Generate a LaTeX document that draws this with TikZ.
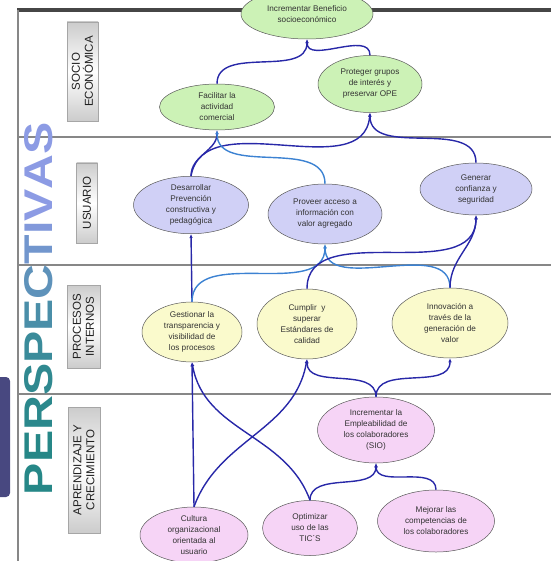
\documentclass[tikz,border=0pt]{standalone}
\usepackage{fontspec}
\setmainfont{Liberation Sans}
\usepackage{tikz}
\usepackage{xcolor}
\usetikzlibrary{positioning, arrows.meta, shapes.geometric}
\definecolor{socgreen}{RGB}{204, 242, 182}
\definecolor{usrlila}{RGB}{208, 208, 246}
\definecolor{proyellow}{RGB}{250, 250, 204}
\definecolor{aprpink}{RGB}{246, 212, 246}
\definecolor{framegray}{RGB}{135, 135, 135}
\definecolor{darkblue}{RGB}{40, 40, 168}
\definecolor{lightblue}{RGB}{60, 130, 210}
\definecolor{pteal}{RGB}{38, 135, 135}
\definecolor{pblue}{RGB}{140, 155, 228}
\definecolor{sidebox}{RGB}{72, 72, 128}
\newcommand{\persletter}[2]{\textcolor{pblue!#1!pteal}{#2}}
\tikzset{
    goalnode/.style={ellipse, draw=gray!70!black, line width=0.5pt, inner sep=0pt, align=center,
        text=black!80, font=\fontsize{8.2}{11}\selectfont},
    greennode/.style={goalnode, fill=socgreen},
    lilanode/.style={goalnode, fill=usrlila},
    yellownode/.style={goalnode, fill=proyellow},
    pinknode/.style={goalnode, fill=aprpink},
    bandline/.style={draw=framegray, line width=2.2pt},
    tagbox/.style={draw=gray!70, top color=gray!40, bottom color=gray!40, middle color=white,
        rotate=90, align=center, inner sep=0pt, text=gray!25!black,
        font=\fontsize{11.5}{13}\selectfont},
    darklink/.style={draw=darkblue, line width=1.4pt, -{Latex[length=4pt, width=3.5pt]}},
    lightlink/.style={darklink, draw=lightblue}
}
\begin{document}
\begin{tikzpicture}[x=1pt, y=1pt]
\useasboundingbox (0,0) rectangle (551,-561);
% marco y franjas
\draw[bandline, line width=3.5pt, draw=gray!55!black] (17,-10) -- (551,-10);
\draw[bandline, line width=2pt] (18,-10) -- (18,-561);
\foreach \y in {137, 265, 394}
    \draw[bandline] (18,-\y) -- (551,-\y);
\fill[sidebox, rounded corners=4pt] (-8,-377) rectangle (10,-497);
% titulo vertical
\node[rotate=90, inner sep=0pt] (persp) at (39,-308.5)
    {\resizebox{373pt}{28pt}{\bfseries\persletter{0}{P}\persletter{0}{E}\persletter{5}{R}%
    \persletter{10}{S}\persletter{20}{P}\persletter{35}{E}\persletter{55}{C}\persletter{75}{T}%
    \persletter{90}{I}\persletter{100}{V}\persletter{100}{A}\persletter{100}{S}}};
% perspectivas
\node[tagbox, minimum width=99pt, minimum height=31pt] (tsocio) at (82.5,-71.5) {SOCIO\\ECONÓMICA};
\node[tagbox, minimum width=80pt, minimum height=21pt] (tusuario) at (87,-203) {USUARIO};
\node[tagbox, minimum width=83pt, minimum height=33pt] (tprocesos) at (83.5,-326.5) {PROCESOS\\INTERNOS};
\node[tagbox, minimum width=126pt, minimum height=32pt] (taprend) at (84,-470) {APRENDIZAJE Y\\CRECIMIENTO};
% socio economica
\node[greennode, minimum width=132pt, minimum height=50pt] (benef) at (307,-14) {Incrementar Beneficio\\socioeconómico};
\node[greennode, minimum width=115pt, minimum height=46pt] (facil) at (217,-107) {Facilitar la\\actividad\\comercial};
\node[greennode, minimum width=104pt, minimum height=57pt] (proteg) at (370,-84) {Proteger grupos\\de interés y\\preservar OPE};
% usuario
\node[lilanode, minimum width=115pt, minimum height=56pt] (desarr) at (191,-205) {Desarrollar\\Prevención\\constructiva y\\pedagógica};
\node[lilanode, minimum width=114pt, minimum height=60pt] (proveer) at (325,-214) {Proveer acceso a\\información con\\valor agregado};
\node[lilanode, minimum width=112pt, minimum height=52pt] (generar) at (476,-189) {Generar\\confianza y\\seguridad};
% procesos internos
\node[yellownode, minimum width=100pt, minimum height=60pt] (gestion) at (192,-332) {Gestionar la\\transparencia y\\visibilidad de\\los procesos};
\node[yellownode, minimum width=100pt, minimum height=70pt] (cumplir) at (307,-324) {Cumplir~ y\\superar\\Estándares de\\calidad};
\node[yellownode, minimum width=116pt, minimum height=70pt] (innov) at (450,-323) {Innovación a\\través de la\\generación de\\valor};
% aprendizaje y crecimiento
\node[pinknode, minimum width=117pt, minimum height=66pt] (emplea) at (376,-430) {Incrementar la\\Empleabilidad de\\los colaboradores\\(SIO)};
\node[pinknode, minimum width=108pt, minimum height=56pt] (cultura) at (194,-535) {Cultura\\organizacional\\orientada al\\usuario};
\node[pinknode, minimum width=95pt, minimum height=55pt] (optim) at (310,-528) {Optimizar\\uso de las\\TIC´S};
\node[pinknode, minimum width=117pt, minimum height=62pt] (mejorar) at (436,-521) {Mejorar las\\competencias de\\los colaboradores};
% relaciones
\draw[darklink] (facil.north) to[out=90, in=-90] (benef.south);
\draw[darklink] (proteg.north) to[out=90, in=-90] (benef.south);
\draw[darklink] (desarr.north) to[out=90, in=-90] (facil.south);
\draw[darklink] (desarr.north) to[out=80, in=-95] (proteg.south);
\draw[lightlink] (proveer.north) to[out=90, in=-90] (facil.south);
\draw[darklink] (generar.north) to[out=90, in=-90] (proteg.south);
\draw[darklink] (gestion.north) -- (desarr.south);
\draw[lightlink] (gestion.north) to[out=90, in=-90] (proveer.south);
\draw[lightlink] (innov.north) to[out=90, in=-90] (proveer.south);
\draw[darklink] (cumplir.north) to[out=90, in=-90] (generar.south);
\draw[darklink] (innov.north) to[out=90, in=-90] (generar.south);
\draw[darklink] (cultura.north) -- (gestion.south);
\draw[darklink] (cultura.north) to[out=70, in=-100] (cumplir.south);
\draw[darklink] (optim.north) to[out=110, in=-80] (gestion.south);
\draw[darklink] (optim.north) to[out=90, in=-90] (emplea.south);
\draw[darklink] (mejorar.north) to[out=90, in=-90] (emplea.south);
\draw[darklink] (emplea.north) to[out=90, in=-90] (cumplir.south);
\draw[darklink] (emplea.north) to[out=90, in=-90] (innov.south);
\end{tikzpicture}
\end{document}
